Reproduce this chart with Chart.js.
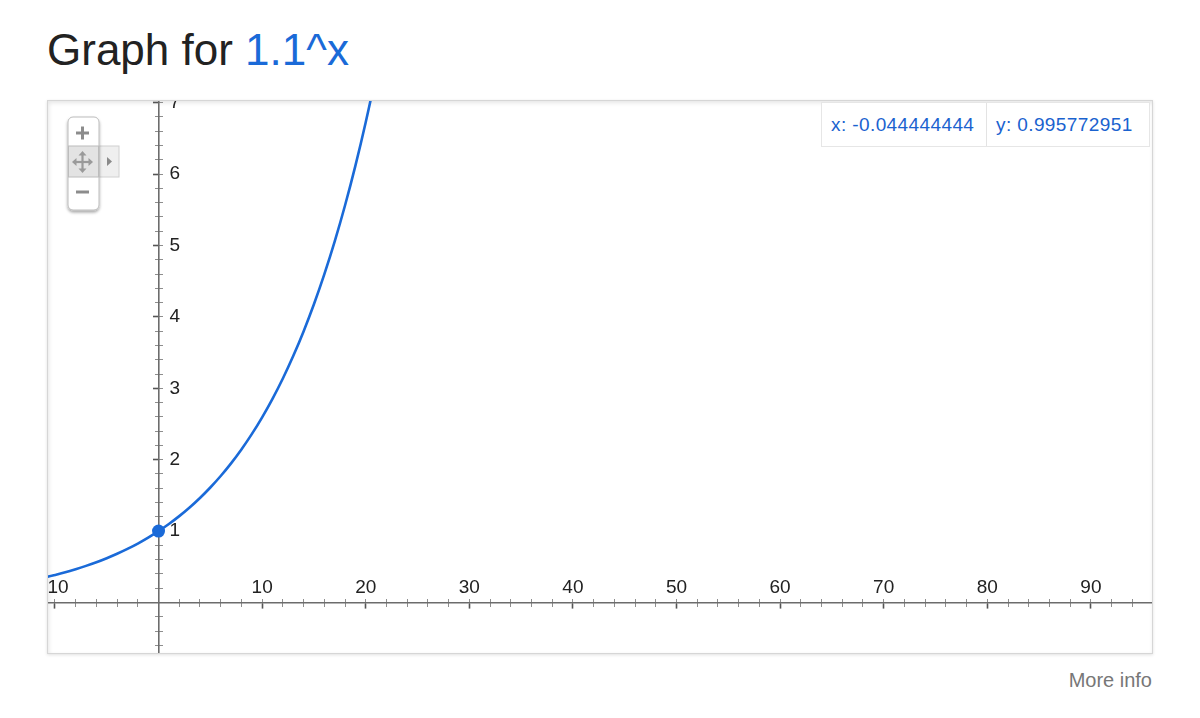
<!DOCTYPE html>
<html>
<head>
<meta charset="utf-8">
<script src="https://cdn.jsdelivr.net/npm/chart.js@4/dist/chart.umd.min.js"></script>
<style>
  html,body{margin:0;padding:0;background:#fff;}
  body{width:1200px;height:718px;overflow:hidden;position:relative;font-family:"Liberation Sans",Arial,sans-serif;}
  #title{position:absolute;left:47px;top:28px;font-size:44px;line-height:44px;color:#222;white-space:nowrap;}
  #title span{color:#1a6ad8;}
  #box{position:absolute;left:47px;top:100px;width:1104px;height:552px;border:1px solid #d6d6d6;
       box-shadow:inset 1px 2px 4px rgba(0,0,0,0.10), 0 1px 3px rgba(0,0,0,0.12);}
  #plot{position:absolute;left:0;top:0;}
  #coords{position:absolute;left:821px;top:102px;height:43px;display:flex;background:#fff;
          border:1px solid #e6e6e6;z-index:3;}
  #coords div{height:43px;display:flex;align-items:center;font-size:19px;letter-spacing:0.4px;color:#1a62cf;}
  #cx{width:165px;padding-left:9px;box-sizing:border-box;border-right:1px solid #e3e3e3;}
  #cy{width:162px;padding-left:9px;box-sizing:border-box;}
  #zoomctl{position:absolute;left:60px;top:110px;z-index:3;}
  #more{position:absolute;right:48px;top:670px;font-size:20px;line-height:20px;color:#777;}
</style>
</head>
<body>
<div id="title">Graph for <span>1.1^x</span></div>
<div id="box"><canvas id="plot" width="1104" height="552"></canvas></div>

<div id="coords"><div id="cx">x: -0.044444444</div><div id="cy">y: 0.995772951</div></div>

<svg id="zoomctl" width="70" height="112" viewBox="0 0 70 112">
  <defs>
    <filter id="sh" x="-30%" y="-30%" width="160%" height="160%">
      <feDropShadow dx="0" dy="2" stdDeviation="1.6" flood-color="#000" flood-opacity="0.35"/>
    </filter>
  </defs>
  <rect x="39" y="36" width="20" height="31" fill="#efefef" stroke="#d0d0d0" stroke-width="1"/>
  <polygon points="47,47 47,56 52,51.5" fill="#8a8a8a"/>
  <rect x="8" y="7" width="31" height="93" rx="5" ry="5" fill="#fff" stroke="#bcbcbc" stroke-width="1" filter="url(#sh)"/>
  <rect x="8.5" y="36" width="30" height="31" fill="#e3e3e3" stroke="#bcbcbc" stroke-width="1"/>
  <line x1="16" y1="23" x2="29" y2="23" stroke="#8c8c8c" stroke-width="3"/>
  <line x1="22.5" y1="16.5" x2="22.5" y2="29.5" stroke="#8c8c8c" stroke-width="3"/>
  <line x1="16" y1="82" x2="29" y2="82" stroke="#8c8c8c" stroke-width="3"/>
  <g stroke="#9a9a9a" stroke-width="2.2" fill="#9a9a9a">
    <line x1="14" y1="52" x2="31" y2="52"/>
    <line x1="22.5" y1="43" x2="22.5" y2="61"/>
    <polygon points="12,52 16.5,48 16.5,56" stroke="none"/>
    <polygon points="33,52 28.5,48 28.5,56" stroke="none"/>
    <polygon points="22.5,41 18.5,45.5 26.5,45.5" stroke="none"/>
    <polygon points="22.5,63 18.5,58.5 26.5,58.5" stroke="none"/>
  </g>
</svg>

<div id="more">More info</div>

<script>
// ---- data ----
const curveX = [-12, -11, -10, -9, -8, -7, -6, -5, -4, -3, -2, -1, 0, 1, 2, 3, 4, 5, 6, 7, 8, 9, 10, 11, 12, 13, 14, 15, 16, 17, 18, 19, 20, 21, 22];
const curveY = [0.319, 0.350, 0.386, 0.424, 0.467, 0.513, 0.564, 0.621, 0.683, 0.751, 0.826, 0.909, 1.000, 1.100, 1.210, 1.331, 1.464, 1.611, 1.772, 1.949, 2.144, 2.358, 2.594, 2.853, 3.138, 3.452, 3.797, 4.177, 4.595, 5.054, 5.560, 6.116, 6.727, 7.400, 8.140];
const markerX = [0];
const markerY = [1];
const xTickValues = [-10, 10, 20, 30, 40, 50, 60, 70, 80, 90];
const xTickLabels = ['-10', '10', '20', '30', '40', '50', '60', '70', '80', '90'];
const yTickValues = [1, 2, 3, 4, 5, 6, 7];
const yTickLabels = ['1', '2', '3', '4', '5', '6', '7'];

// ---- view window ----
const X_MIN = -10.67, X_MAX = 95.9;
const Y_MIN = -0.707, Y_MAX = 7.024;

const BLUE = '#1a6ad8';
const AXIS = '#6c6c6c';
const MINOR = '#8e8e8e';
const FONT = {family: '"Liberation Sans", Arial, sans-serif', size: 19};

const noPad = s => { s.paddingLeft = 0; s.paddingRight = 0; s.paddingTop = 0; s.paddingBottom = 0; };
const labelFor = (vals, labs) => (v) => { const i = vals.indexOf(Math.round(v * 1000) / 1000); return i >= 0 ? labs[i] : ''; };

const curvePts = curveX.map((x, i) => ({x, y: curveY[i]}));
const markerPts = markerX.map((x, i) => ({x, y: markerY[i]}));

new Chart(document.getElementById('plot'), {
  type: 'scatter',
  data: {
    datasets: [
      {
        data: curvePts, showLine: true, borderColor: BLUE, borderWidth: 2.6,
        pointRadius: 0, tension: 0.4, cubicInterpolationMode: 'monotone', fill: false,
        xAxisID: 'x', yAxisID: 'y'
      },
      {
        data: markerPts, showLine: false, pointRadius: 6.5, pointBackgroundColor: BLUE,
        pointBorderColor: BLUE, pointBorderWidth: 0, xAxisID: 'x', yAxisID: 'y'
      }
    ]
  },
  options: {
    responsive: false, animation: false, devicePixelRatio: 1, events: [],
    layout: {padding: 0, autoPadding: false},
    plugins: {legend: {display: false}, tooltip: {enabled: false}, title: {display: false}},
    scales: {
      xm: {
        axis: 'x', type: 'linear', position: {y: 4 / 71.4}, min: X_MIN, max: X_MAX,
        afterFit: noPad,
        border: {display: false},
        grid: {drawOnChartArea: false, drawTicks: true, tickLength: 8, tickColor: MINOR, tickWidth: 1},
        ticks: {display: false, stepSize: 2, includeBounds: false, autoSkip: false}
      },
      ym: {
        axis: 'y', type: 'linear', position: {x: 4 / 10.36}, min: Y_MIN, max: Y_MAX,
        afterFit: noPad,
        border: {display: false},
        grid: {drawOnChartArea: false, drawTicks: true, tickLength: 8, tickColor: MINOR, tickWidth: 1},
        ticks: {display: false, stepSize: 0.2, includeBounds: false, autoSkip: false}
      },
      x: {
        axis: 'x', type: 'linear', position: {y: 0}, min: X_MIN, max: X_MAX,
        afterFit: noPad,
        afterBuildTicks: s => { s.ticks = xTickValues.map(v => ({value: v})); },
        border: {display: true, color: AXIS, width: 1.6},
        grid: {drawOnChartArea: false, drawTicks: true, tickLength: 5, tickColor: '#555', tickWidth: 1.6},
        ticks: {
          autoSkip: false, maxRotation: 0, minRotation: 0, padding: -31, color: '#222', font: FONT,
          callback: labelFor(xTickValues, xTickLabels)
        }
      },
      y: {
        axis: 'y', type: 'linear', position: {x: 0}, min: Y_MIN, max: Y_MAX,
        afterFit: noPad,
        afterBuildTicks: s => { s.ticks = yTickValues.map(v => ({value: v})); },
        border: {display: true, color: AXIS, width: 1.6},
        grid: {drawOnChartArea: false, drawTicks: true, tickLength: 5, tickColor: '#555', tickWidth: 1.6},
        ticks: {display: false}
      },
      yl: {
        axis: 'y', type: 'linear', position: {x: 2.08}, min: Y_MIN, max: Y_MAX,
        afterFit: noPad,
        afterBuildTicks: s => { s.ticks = yTickValues.map(v => ({value: v})); },
        border: {display: false},
        grid: {drawOnChartArea: false, drawTicks: false},
        ticks: {padding: 0, color: '#222', font: FONT, autoSkip: false, callback: labelFor(yTickValues, yTickLabels)}
      }
    }
  }
});
</script>
</body>
</html>
